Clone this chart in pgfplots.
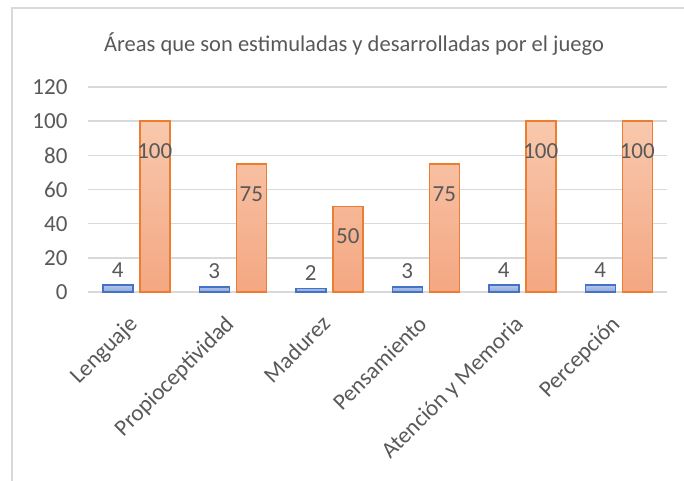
\documentclass[border=0pt]{standalone}
\usepackage{pgfplots}
\pgfplotsset{compat=1.18}
\usepackage{fontspec}
\setmainfont{Carlito}
\definecolor{textgrey}{HTML}{595959}
\definecolor{gridgrey}{HTML}{D9D9D9}
\definecolor{bblue}{HTML}{4472C4}
\definecolor{bbluetop}{HTML}{B4C6EA}
\definecolor{bbluebot}{HTML}{8EA9DB}
\definecolor{borange}{HTML}{ED7D31}
\definecolor{borangetop}{HTML}{F8C8AC}
\definecolor{borangebot}{HTML}{F4A782}
\begin{document}
\begin{tikzpicture}
\useasboundingbox (0,0) rectangle (684pt,480pt);
\fill[white] (0,0) rectangle (684pt,480pt);
\draw[gridgrey, line width=2pt] (12pt,-5pt) -- (12pt,472pt) -- (690pt,472pt);
\node[font=\fontsize{22.5pt}{27pt}\selectfont, text=textgrey] at (354pt,436pt) {Áreas que son estimuladas y desarrolladas por el juego};
\begin{axis}[
  at={(88pt,188pt)}, anchor=south west,
  scale only axis, width=579pt, height=205pt,
  xmin=-0.5, xmax=5.5, ymin=0, ymax=120,
  ytick={0,20,...,120},
  xtick={0,...,5},
  xticklabels={Lenguaje, Propioceptividad, Madurez, Pensamiento, Atención y Memoria, Percepción},
  ymajorgrids, grid style={draw=gridgrey, line width=1.5pt},
  axis line style={draw=none},
  major tick length=0pt,
  tick style={draw=none},
  /pgf/number format/assume math mode=true,
  ticklabel style={font=\fontsize{23pt}{27pt}\selectfont, text=textgrey},
  yticklabel style={xshift=-17pt},
  xticklabel style={xshift=-9pt, yshift=-22pt, rotate=45, anchor=north east, inner sep=0pt},
  ybar, bar width=30pt,
  clip=false,
]
\addplot[bar shift=-18.5pt, draw=bblue, line width=1.5pt, top color=bbluetop, bottom color=bbluebot,
  nodes near coords, nodes near coords style={font=\fontsize{23pt}{27pt}\selectfont, text=textgrey, yshift=4pt}]
  coordinates {(0,4) (1,3) (2,2) (3,3) (4,4) (5,4)};
\addplot[bar shift=18.5pt, draw=borange, line width=1.5pt, top color=borangetop, bottom color=borangebot,
  nodes near coords, nodes near coords align={center}, nodes near coords style={font=\fontsize{23pt}{27pt}\selectfont, text=textgrey, yshift=-30pt}]
  coordinates {(0,100) (1,75) (2,50) (3,75) (4,100) (5,100)};
\end{axis}
\end{tikzpicture}
\end{document}
